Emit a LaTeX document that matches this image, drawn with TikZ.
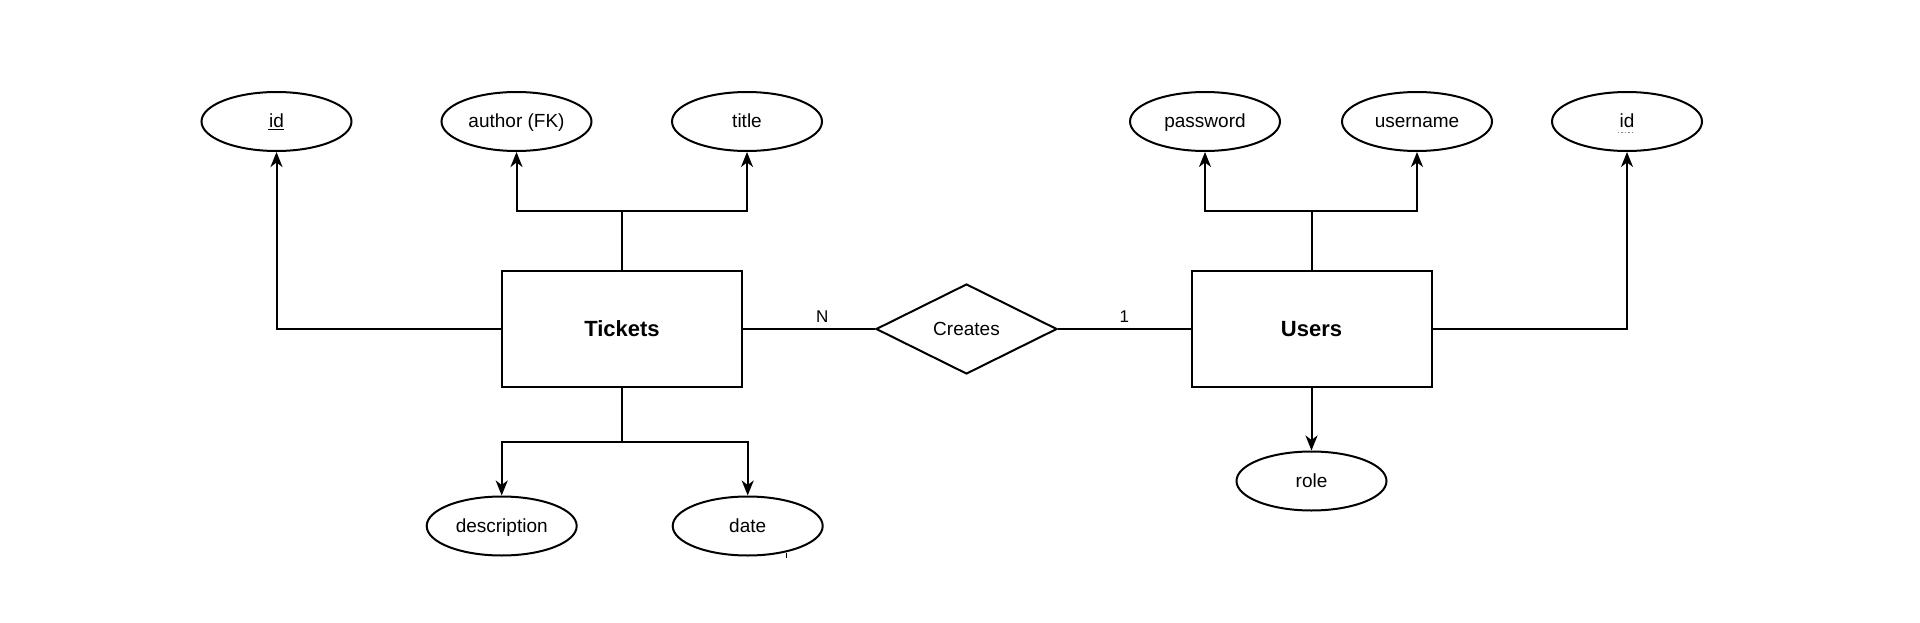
\documentclass[tikz,border=0pt]{standalone}
\usepackage{fontspec}
\setmainfont{Liberation Sans}
\usetikzlibrary{arrows.meta,shapes.geometric}
\begin{document}
\begin{tikzpicture}[x=1pt,y=-1pt,
  ent/.style={draw, line width=2pt, fill=white, minimum width=240pt, minimum height=116pt, inner sep=0pt, font=\fontsize{22}{26}\selectfont\bfseries},
  attr/.style={draw, ellipse, line width=2pt, fill=white, minimum width=150pt, minimum height=59pt, inner sep=0pt, text height=13.6pt, text depth=0.6pt, font=\fontsize{19}{23}\selectfont},
  rel/.style={draw, diamond, aspect=2, line width=2pt, fill=white, minimum width=181pt, minimum height=90pt, inner sep=0pt, font=\fontsize{19}{23}\selectfont},
  conn/.style={line width=2pt},
  arr/.style={conn, -{Stealth[length=15pt,width=12pt,inset=4.5pt]}},
  card/.style={font=\fontsize{17}{20}\selectfont, anchor=south, inner sep=6pt}
]
\useasboundingbox[fill=white] (0,0) rectangle (1920,623);

% entities and relationship
\node[ent] (tickets) at (622,329) {Tickets};
\node[ent] (users) at (1311.5,329) {Users};
\node[rel] (creates) at (966.5,329) {Creates};

% attributes
\node[attr] (id1) at (276.5,121.5) {id};
\node[attr] (author) at (516.5,121.5) {author (FK)};
\node[attr] (title) at (747,121.5) {title};
\node[attr] (desc) at (501.7,526) {description};
\node[attr] (date) at (747.7,526) {date};
\node[attr] (password) at (1205,121.5) {password};
\node[attr] (username) at (1417,121.5) {username};
\node[attr] (id2) at (1627,121.5) {id};
\node[attr] (role) at (1311.5,481) {role};

% underlines of the keys
\draw[line width=1.2pt] ([xshift=-8.7pt,yshift=-7.8pt]id1.center) -- ([xshift=7.9pt,yshift=-7.8pt]id1.center);
\draw[line width=1.5pt, dotted, gray] ([xshift=-9.3pt,yshift=-10.8pt]id2.center) -- ([xshift=7.3pt,yshift=-10.8pt]id2.center);

% junction points
\coordinate (jt) at (622,211);
\coordinate (jb) at (622,441.7);
\coordinate (ju) at (1311.5,211);

% Tickets connectors
\draw[arr] (tickets.west) -| (id1.south);
\draw[conn] (tickets.north) -- (jt);
\draw[arr] (jt) -| (author.south);
\draw[arr] (jt) -| (title.south);
\draw[conn] (tickets.south) -- (jb);
\draw[arr] (jb) -| (desc.north);
\draw[arr] (jb) -| (date.north);

% relationship
\draw[conn] (tickets.east) -- node[card, pos=0.6] {N} (creates.west);
\draw[conn] (creates.east) -- node[card, pos=0.5] {1} (users.west);

% Users connectors
\draw[conn] (users.north) -- (ju);
\draw[arr] (ju) -| (password.south);
\draw[arr] (ju) -| (username.south);
\draw[arr] (users.east) -| (id2.south);
\draw[arr] (users.south) -- (role.north);

% small stray mark under the date ellipse
\coordinate (m1) at (786.7,553);
\coordinate (m2) at (786.7,557.5);
\draw[line width=1.2pt] (m1) -- (m2);
\end{tikzpicture}
\end{document}
